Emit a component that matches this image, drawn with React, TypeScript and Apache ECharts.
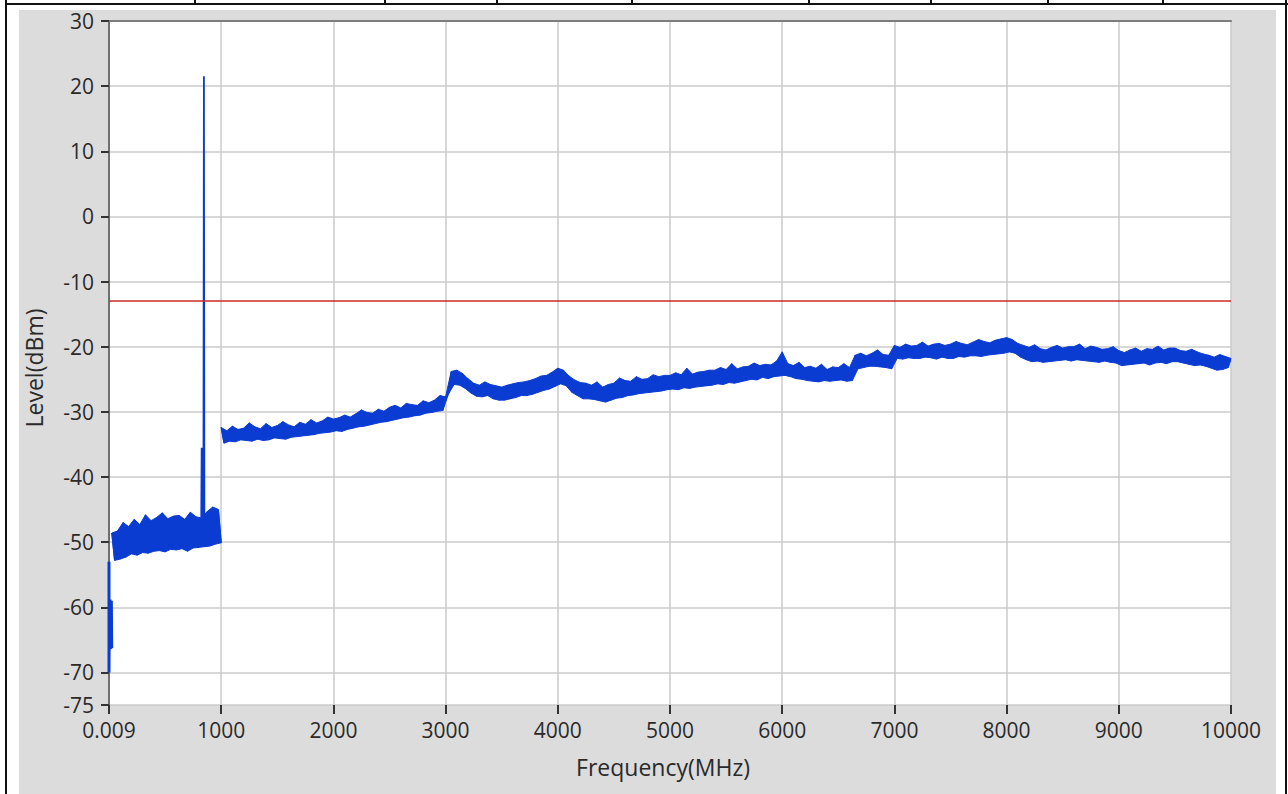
import React, { useEffect, useRef } from "react";
import * as echarts from "echarts";

// ---- data ----
const xTickValues = [0, 1000, 2000, 3000, 4000, 5000, 6000, 7000, 8000, 9000, 10000];
const xFirstLabel = "0.009";
const yTickValues = [-75, -70, -60, -50, -40, -30, -20, -10, 0, 10, 20, 30];
const limitLevel = -13;

// very low band (0.009 .. 24 MHz)
const lowFreqs = [0.009, 0.009, 3, 6, 9, 12, 15, 18, 21, 24];
const lowLevels = [-53, -70, -59, -66.5, -58.8, -66.4, -59.2, -66.2, -59, -66.3];

// carrier near 845 MHz
const carrierFreqs = [822, 826, 830, 834, 838, 842, 846, 850];
const carrierLevels = [-47, -35.5, -47, -36, -47, -38, 21.5, -47];

// band A: 25 .. 1000 MHz, 25 MHz sweep step (alternating peak / trough)
const bandAStart = 25;
const bandAStep = 25;
const bandALevels = [
  -48.6, -52.8, -48.3, -52.6, -47.0, -52.3, -47.6, -51.8, -46.5, -52.0,
  -47.3, -51.6, -45.8, -51.7, -46.7, -51.4, -46.2, -51.3, -45.5, -51.5,
  -46.4, -51.1, -46.0, -51.2, -45.9, -51.0, -46.5, -51.4, -45.4, -50.9,
  -46.1, -50.8, -46.3, -50.7, -45.3, -50.6, -44.6, -50.3, -45.0, -50.1,
];

// band B: 1000 .. 10000 MHz, 25 MHz sweep step (alternating peak / trough)
const bandBStart = 1000;
const bandBStep = 25;
const bandBLevels = [
  -32.4, -34.8, -32.9, -34.5, -32.2, -34.6, -32.7, -34.3, -32.5, -34.4, -31.7, -34.5, -32.3, -34.2, -32.6, -34.4, -31.8, -34.3, -32.4, -34.0,
  -32.1, -34.1, -31.5, -34.2, -32.0, -33.9, -32.3, -33.8, -31.6, -33.7, -31.9, -33.6, -31.2, -33.5, -31.7, -33.3, -31.4, -33.2, -30.8, -33.1,
  -31.1, -32.9, -30.9, -33.0, -30.5, -32.7, -30.8, -32.5, -30.3, -32.3, -29.7, -32.2, -30.1, -32.0, -30.2, -31.8, -29.6, -31.6, -29.9, -31.5,
  -29.3, -31.3, -29.0, -31.1, -29.4, -30.9, -28.7, -30.8, -28.9, -30.6, -29.0, -30.5, -28.3, -30.2, -28.6, -30.1, -28.2, -29.9, -27.5, -29.8,
  -27.7, -27.3, -23.8, -25.8, -23.6, -25.9, -24.1, -26.4, -24.9, -27.1, -25.6, -27.6, -25.9, -27.7, -25.4, -27.5, -25.8, -28.0, -26.0, -28.2,
  -26.2, -28.2, -25.9, -28.0, -25.7, -27.8, -25.5, -27.5, -25.4, -27.5, -25.2, -27.3, -24.9, -27.0, -24.5, -26.7, -24.4, -26.5, -23.9, -26.1,
  -23.3, -25.7, -23.6, -26.0, -24.5, -27.0, -25.1, -27.5, -25.5, -28.0, -25.6, -28.0, -25.9, -28.1, -25.4, -28.3, -26.2, -28.5, -25.8, -28.2,
  -25.6, -27.9, -24.8, -27.8, -25.2, -27.5, -25.3, -27.4, -24.6, -27.2, -25.0, -27.1, -24.9, -27.0, -24.3, -26.9, -24.6, -26.8, -24.4, -26.6,
  -24.4, -26.5, -24.0, -26.6, -24.3, -26.3, -23.3, -26.4, -24.2, -26.2, -23.9, -26.1, -23.8, -26.0, -23.6, -25.9, -23.6, -25.7, -23.2, -25.8,
  -23.5, -25.5, -22.6, -25.6, -23.4, -25.4, -23.1, -25.2, -23.0, -25.0, -22.5, -25.1, -22.9, -24.7, -22.7, -24.9, -22.8, -24.6, -22.2, -24.5,
  -20.8, -24.4, -22.6, -24.6, -22.9, -24.9, -22.4, -25.0, -23.2, -25.2, -23.0, -25.3, -23.3, -25.4, -22.7, -25.2, -23.5, -25.3, -23.1, -25.2,
  -23.2, -25.1, -22.6, -25.3, -23.2, -25.2, -21.3, -23.4, -21.0, -23.2, -21.4, -23.0, -21.0, -23.0, -20.5, -23.1, -21.2, -23.2, -21.3, -23.4,
  -19.8, -21.8, -20.1, -21.9, -19.6, -21.7, -19.9, -21.8, -19.8, -21.8, -19.3, -21.6, -19.9, -21.7, -19.6, -21.9, -19.5, -21.6, -19.8, -21.8,
  -19.6, -21.8, -19.2, -21.5, -19.5, -21.6, -19.7, -21.4, -19.3, -21.4, -18.9, -21.5, -19.2, -21.3, -19.4, -21.2, -19.0, -21.1, -18.8, -21.0,
  -18.6, -20.8, -18.9, -21.0, -19.5, -21.6, -19.8, -22.0, -20.1, -22.3, -19.7, -22.2, -20.3, -22.4, -20.5, -22.3, -20.1, -22.2, -19.8, -22.1,
  -20.2, -22.0, -20.0, -22.2, -20.0, -22.0, -19.6, -22.1, -20.3, -22.2, -19.9, -22.3, -20.1, -22.4, -20.4, -22.2, -20.3, -22.4, -20.0, -22.5,
  -20.6, -22.9, -20.9, -22.8, -20.5, -22.7, -20.2, -22.6, -20.7, -22.5, -20.3, -22.8, -20.4, -22.5, -19.9, -22.4, -20.5, -22.6, -20.2, -22.3,
  -20.2, -22.3, -20.6, -22.5, -20.7, -22.7, -20.4, -22.9, -20.8, -22.8, -21.1, -23.0, -21.3, -23.3, -21.6, -23.6, -21.2, -23.5, -21.5, -23.2,
  -21.8,
];

const FONT = "'Open Sans', 'Noto Sans', sans-serif";
const TRACE = "#0b3cd2";

function bandSeries(trace: number[][]) {
  // fill between the peak points (even indices) and trough points (odd indices)
  const peaks = trace.filter((_, i) => i % 2 === 0);
  const troughs = trace.filter((_, i) => i % 2 === 1).reverse();
  return {
    type: "custom",
    silent: true,
    clip: true,
    z: 2,
    data: [trace[0]],
    renderItem: (_params: any, api: any) => {
      const pts = peaks.concat(troughs).map((p) => api.coord(p));
      return {
        type: "polygon",
        shape: { points: pts },
        style: { fill: TRACE, stroke: TRACE, lineWidth: 1 },
      };
    },
  };
}

function App() {
  const ref = useRef<HTMLDivElement>(null);

  useEffect(() => {
    if (!ref.current) return;
    const chart = echarts.init(ref.current, undefined, { renderer: "svg" });

    const low = lowFreqs.map((f, i) => [f, lowLevels[i]]);
    const bandA = bandALevels.map((v, i) => [bandAStart + i * bandAStep, v]);
    const bandB = bandBLevels.map((v, i) => [bandBStart + i * bandBStep, v]);
    const carrier = carrierFreqs.map((f, i) => [f, carrierLevels[i]]);

    const labelStyle = { color: "#2a2a2a", fontSize: 21, fontFamily: FONT };
    const lineSeries = (data: number[][], width: number, extra: any = {}) => ({
      type: "line",
      data,
      showSymbol: false,
      symbol: "none",
      lineStyle: { color: TRACE, width },
      z: 3,
      ...extra,
    });

    chart.setOption({
      animation: false,
      backgroundColor: "transparent",
      grid: {
        left: 109,
        right: 57,
        top: 21,
        bottom: 89,
        show: true,
        backgroundColor: "#ffffff",
        borderWidth: 0,
      },
      xAxis: [
        {
          type: "value",
          min: xTickValues[0],
          max: xTickValues[xTickValues.length - 1],
          interval: 1000,
          name: "Frequency(MHz)",
          nameLocation: "middle",
          nameGap: 50,
          nameTextStyle: { color: "#2a2a2a", fontSize: 23, fontFamily: FONT, padding: [0, 14, 0, 0] },
          axisLine: { show: false, onZero: false },
          axisTick: { show: true, length: 9, lineStyle: { color: "#333", width: 2 } },
          axisLabel: {
            ...labelStyle,
            margin: 14,
            formatter: (v: number) => (v === 0 ? xFirstLabel : String(v)),
          },
          splitLine: { show: true, lineStyle: { color: "#cbcbcb", width: 1.5 } },
        },
        {
          type: "value",
          position: "top",
          min: xTickValues[0],
          max: xTickValues[xTickValues.length - 1],
          axisLine: { show: true, onZero: false, lineStyle: { color: "#7d7d7d", width: 2 } },
          axisTick: { show: false },
          axisLabel: { show: false },
          splitLine: { show: false },
        },
      ],
      yAxis: {
        type: "value",
        min: yTickValues[0],
        max: yTickValues[yTickValues.length - 1],
        name: "Level(dBm)",
        nameLocation: "middle",
        nameGap: 64,
        nameTextStyle: { color: "#2a2a2a", fontSize: 23, fontFamily: FONT, padding: [0, 10, 0, 0] },
        axisLine: { show: true, onZero: false, lineStyle: { color: "#707070", width: 2 } },
        axisTick: {
          show: true,
          length: 8,
          customValues: yTickValues,
          lineStyle: { color: "#333", width: 2 },
        },
        axisLabel: { ...labelStyle, margin: 15, customValues: yTickValues },
        splitLine: { show: true, lineStyle: { color: "#cbcbcb", width: 1.5 } },
      },
      series: [
        bandSeries(bandA),
        bandSeries(bandB),
        lineSeries(low, 3, {
          markLine: {
            silent: true,
            symbol: "none",
            label: { show: false },
            lineStyle: { color: "#cc2a2a", width: 1.5, type: "solid" },
            data: [{ yAxis: limitLevel }],
          },
        }),
        lineSeries(bandA, 1.2),
        lineSeries(bandB, 1.2),
        lineSeries(carrier, 1.8),
      ],
    });

    return () => chart.dispose();
  }, []);

  const sepXs = [194, 384, 496, 631, 808, 930, 1047, 1162];

  return (
    <div
      style={{
        position: "absolute",
        left: 0,
        top: 0,
        width: 1288,
        height: 794,
        background: "#ffffff",
        overflow: "hidden",
      }}
    >
      <div style={{ position: "absolute", left: 19, top: 10, width: 1257, height: 784, background: "#dcdcdc" }} />
      <div style={{ position: "absolute", left: 5, top: 3, width: 1283, height: 2, background: "#111" }} />
      <div style={{ position: "absolute", left: 5, top: 0, width: 2, height: 794, background: "#111" }} />
      <div style={{ position: "absolute", left: 1285, top: 0, width: 2, height: 794, background: "#111" }} />
      {sepXs.map((x) => (
        <div key={x} style={{ position: "absolute", left: x, top: 0, width: 2, height: 4, background: "#111" }} />
      ))}
      <div ref={ref} style={{ position: "absolute", left: 0, top: 0, width: 1288, height: 794 }} />
    </div>
  );
}

export default App;
